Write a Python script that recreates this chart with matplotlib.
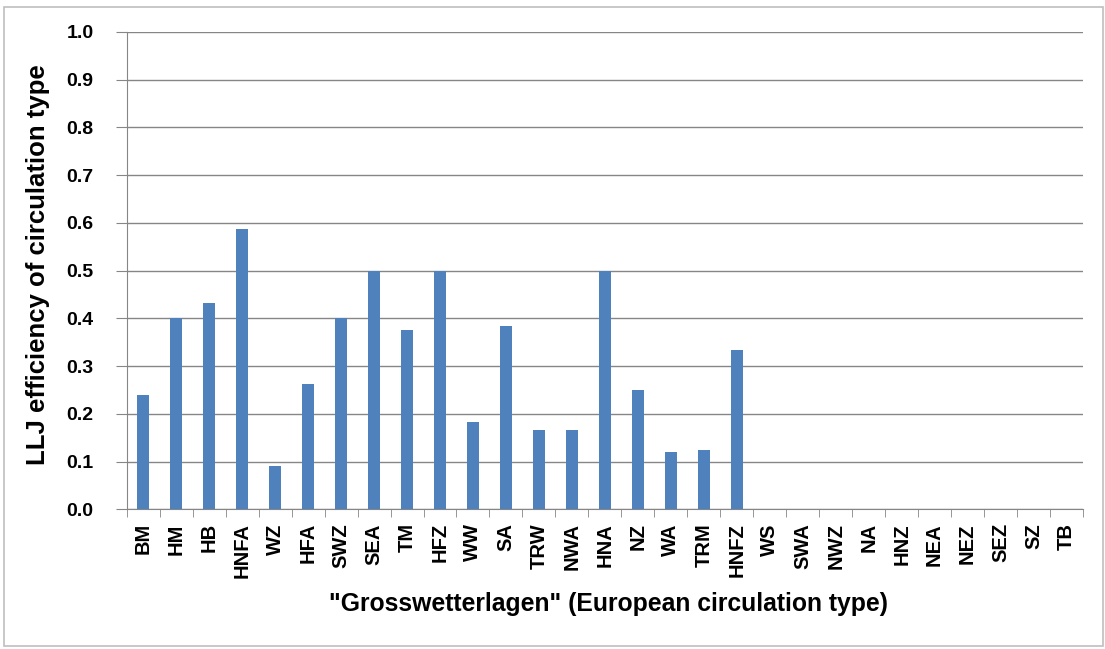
import numpy as np
import matplotlib.pyplot as plt
from matplotlib.patches import Rectangle

types = ["BM", "HM", "HB", "HNFA", "WZ", "HFA", "SWZ", "SEA", "TM", "HFZ",
         "WW", "SA", "TRW", "NWA", "HNA", "NZ", "WA", "TRM", "HNFZ", "WS",
         "SWA", "NWZ", "NA", "HNZ", "NEA", "NEZ", "SEZ", "SZ", "TB"]
efficiency = [0.24, 0.40, 0.433, 0.587, 0.091, 0.263, 0.40, 0.50, 0.375, 0.50,
              0.182, 0.383, 0.167, 0.167, 0.50, 0.25, 0.12, 0.125, 0.333, 0.0,
              0.0, 0.0, 0.0, 0.0, 0.0, 0.0, 0.0, 0.0, 0.0]
yticks = np.arange(0, 1.01, 0.1)

plt.rcParams['font.family'] = ['Liberation Sans', 'DejaVu Sans']

fig = plt.figure(figsize=(11.05, 6.49), dpi=100)
# light frame round the whole chart
fig.patches.append(Rectangle((0.004, 0.004), 0.994, 0.985, transform=fig.transFigure,
                             fill=False, edgecolor='#bfbfbf', lw=1.2))

ax = fig.add_axes([0.1147, 0.2153, 0.8654, 0.7354])
x = np.arange(len(types))
ax.bar(x, efficiency, width=0.38, color='#4f81bd', zorder=3)

ax.set_xlim(-0.5, len(types) - 0.5)
ax.set_ylim(0, 1.0)
ax.set_yticks(yticks)
ax.set_yticklabels([f"{v:.1f}" for v in yticks], fontsize=14, fontweight='bold')
ax.yaxis.grid(True, color='#868686', lw=1.0, zorder=0)

ax.set_xticks(x)
ax.set_xticklabels(types, rotation=90, fontsize=14.5, fontweight='bold')
ax.set_xticks(np.arange(-0.5, len(types)), minor=True)
ax.tick_params(axis='x', which='major', length=0, pad=10)
ax.tick_params(axis='x', which='minor', length=6, color='#868686', direction='out')
ax.tick_params(axis='y', length=8, color='#868686', direction='out', pad=16)

for side in ['top', 'right']:
    ax.spines[side].set_visible(False)
for side in ['left', 'bottom']:
    ax.spines[side].set_color('#868686')

ax.set_xlabel('"Grosswetterlagen" (European circulation type)', fontsize=17.8,
              fontweight='bold')
ax.xaxis.set_label_coords(0.504, -0.1985)
ax.xaxis.label.set_va('center')
ax.set_ylabel('LLJ efficiency of circulation type', fontsize=18.5,
              fontweight='bold')
ax.yaxis.set_label_coords(-0.093, 0.512)
ax.yaxis.label.set_va('center')

fig.savefig('out.png', dpi=100)
